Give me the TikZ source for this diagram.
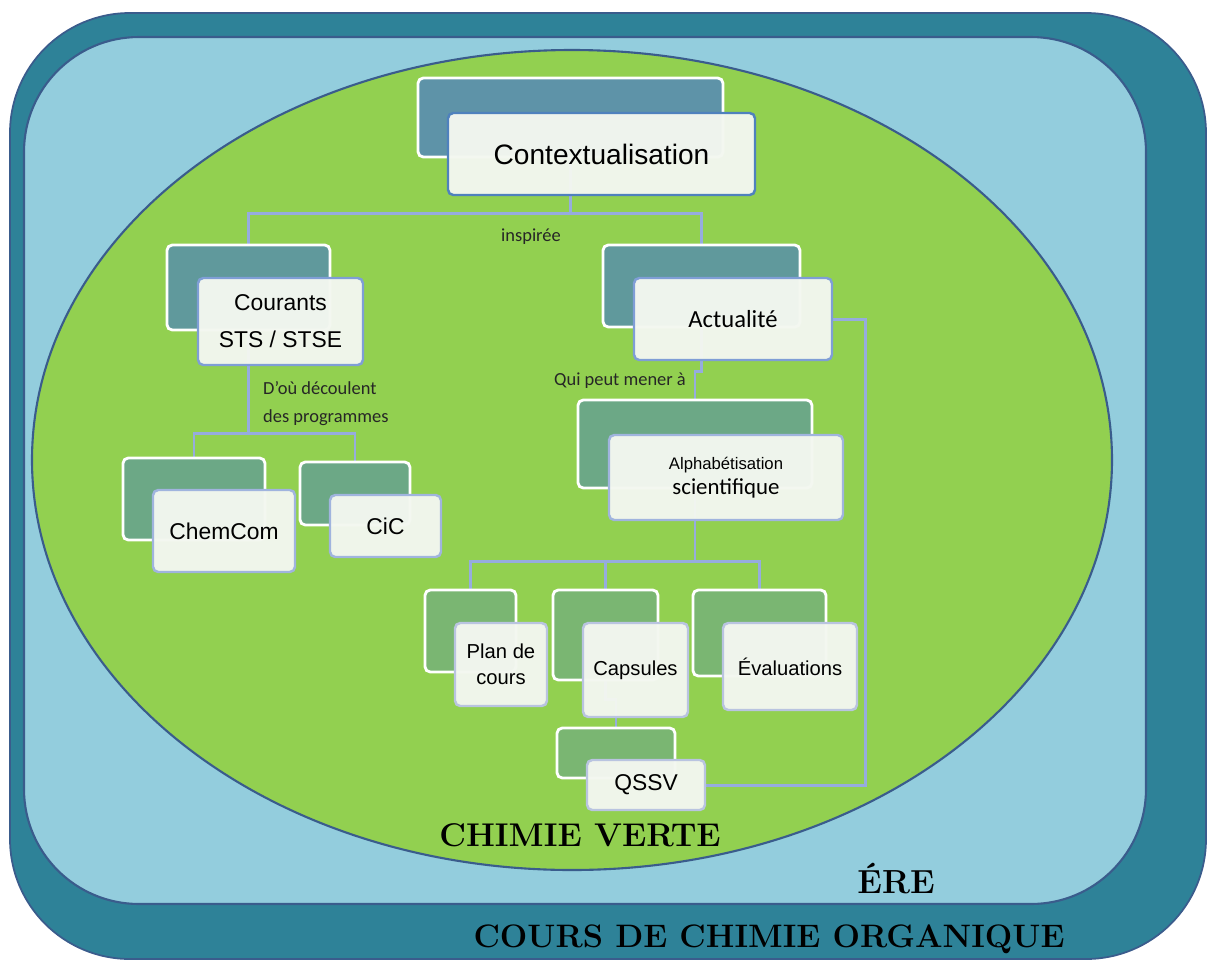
\documentclass[tikz,border=0pt]{standalone}
\usepackage{fontspec}
\newfontfamily\arial{Liberation Sans}
\newfontfamily\calib{Carlito}
\usetikzlibrary{fit}

\definecolor{outerteal}{RGB}{46,130,152}
\definecolor{paleblue}{RGB}{147,205,221}
\definecolor{rimblue}{RGB}{58,92,140}
\definecolor{greenfill}{RGB}{146,208,80}
\definecolor{ctxcol}{RGB}{94,147,168}
\definecolor{midcol}{RGB}{96,153,156}
\definecolor{lowcol}{RGB}{108,168,134}
\definecolor{leafcol}{RGB}{122,182,114}
\definecolor{frontfill}{RGB}{243,247,240}
\definecolor{ctxline}{RGB}{79,129,189}
\definecolor{midline}{RGB}{127,158,214}
\definecolor{lowline}{RGB}{160,180,222}
\definecolor{leafline}{RGB}{185,196,224}
\definecolor{linkblue}{RGB}{150,172,222}

\pgfdeclarelayer{background}
\pgfsetlayers{background,main}

\begin{document}
\begin{tikzpicture}[x=0.02cm,y=-0.02cm,
  back/.style={draw=white,line width=1.6pt,rounded corners=3pt,fill=#1,inner sep=0pt},
  front/.style={draw=#1,line width=1.4pt,rounded corners=3pt,fill=frontfill,fill opacity=0.97,inner sep=0pt},
  every label/.style={align=center,inner sep=0pt},
  link/.style={draw=linkblue,line width=1.7pt},
  note/.style={font=\calib\fontsize{10.5}{16}\selectfont,text=black!85},
  title/.style={font=\bfseries\fontsize{#1}{24}\selectfont}]
  \useasboundingbox (0,0) rectangle (1208,961);

  \begin{pgfonlayer}{background}
    \draw[draw=rimblue,line width=1pt,fill=outerteal,rounded corners=2.4cm] (10,13) rectangle (1206,959);
    \draw[draw=rimblue,line width=1.2pt,fill=paleblue,rounded corners=2.3cm] (24,37) rectangle (1146,904);
    \draw[draw=rimblue,line width=1.2pt,fill=greenfill] (572,460) ellipse [x radius=540, y radius=410];
  \end{pgfonlayer}

  \node[back=ctxcol,fit={(418,78) (723,157)}] (ctxb) {};
  \node[front=ctxline,fit={(448,113) (755,195)},
    label={[font=\arial\fontsize{16}{19}\selectfont]center:Contextualisation}] (ctx) {};

  \node[back=midcol,fit={(167,245) (330,330)}] (courb) {};
  \node[front=midline,fit={(198,278) (363,365)},
    label={[font=\arial\fontsize{13}{21}\selectfont]center:{Courants\\STS / STSE}}] (cour) {};
  \node[back=midcol,fit={(603,245) (800,327)}] (actb) {};
  \node[front=midline,fit={(634,278) (832,360)},
    label={[font=\calib\fontsize{14}{17}\selectfont]center:Actualité}] (act) {};

  \node[back=lowcol,fit={(123,458) (265,540)}] (chemb) {};
  \node[front=lowline,fit={(153,490) (295,572)},
    label={[font=\arial\fontsize{13}{16}\selectfont]center:ChemCom}] (chem) {};
  \node[back=lowcol,fit={(300,462) (410,525)}] (cicb) {};
  \node[front=lowline,fit={(330,495) (441,557)},
    label={[font=\arial\fontsize{13}{16}\selectfont]center:CiC}] (cic) {};
  \node[back=lowcol,fit={(578,400) (812,488)}] (alphab) {};
  \node[front=lowline,fit={(609,435) (843,520)},
    label={center:{{\arial\fontsize{9.5}{12}\selectfont Alphabétisation}\\[2pt]{\calib\fontsize{13}{15}\selectfont scientifique}}}] (alpha) {};

  \node[back=leafcol,fit={(425,590) (516,672)}] (planb) {};
  \node[front=leafline,fit={(455,623) (547,706)},
    label={[font=\arial\fontsize{11.5}{14.5}\selectfont]center:{Plan de\\cours}}] (plan) {};
  \node[back=leafcol,fit={(553,590) (658,680)}] (capb) {};
  \node[front=leafline,fit={(583,623) (688,717)},
    label={[font=\arial\fontsize{11.5}{14}\selectfont]center:Capsules}] (cap) {};
  \node[back=leafcol,fit={(693,590) (826,676)}] (evalb) {};
  \node[front=leafline,fit={(723,623) (857,710)},
    label={[font=\arial\fontsize{11.5}{14}\selectfont]center:Évaluations}] (eval) {};
  \node[back=leafcol,fit={(557,728) (675,778)}] (qssvb) {};
  \node[front=leafline,fit={(587,760) (705,810)},
    label={[font=\arial\fontsize{13}{16}\selectfont]center:QSSV}] (qssv) {};

  \begin{pgfonlayer}{background}
    \draw[link] (ctxb.south) -- ++(0,55) -| (courb.north);
    \draw[link] (ctxb.south) -- ++(0,55) -| (actb.north);
    \draw[link] (courb.south) -- ++(0,102) -| (chemb.north);
    \draw[link] (courb.south) -- ++(0,102) -| (cicb.north);
    \draw[link] (actb.south) -- ++(0,43) -| (alphab.north);
    \draw[link] (alphab.south) -- ++(0,72) -| (planb.north);
    \draw[link] (alphab.south) -- ++(0,72) -| (capb.north);
    \draw[link] (alphab.south) -- ++(0,72) -| (evalb.north);
    \draw[link] (capb.south) -- ++(0,18) -| (qssvb.north);
    \draw[link] (act.east) -- ++(32,0) |- (qssv.east);
  \end{pgfonlayer}

  \node[note] (insp) at (531,237) {inspirée};
  \node[note,anchor=west,align=left] (decoule) at (257,404) {D’où découlent\\des programmes};
  \node[note] (mener) at (620,381) {Qui peut mener à};

  \node[title=18.7] (verte) at (580,835) {CHIMIE VERTE};
  \node[title=19] (ere) at (896,879) {ÉRE};
  \node[title=18.5] (cours) at (769,939) {COURS DE CHIMIE ORGANIQUE};
\end{tikzpicture}
\end{document}
